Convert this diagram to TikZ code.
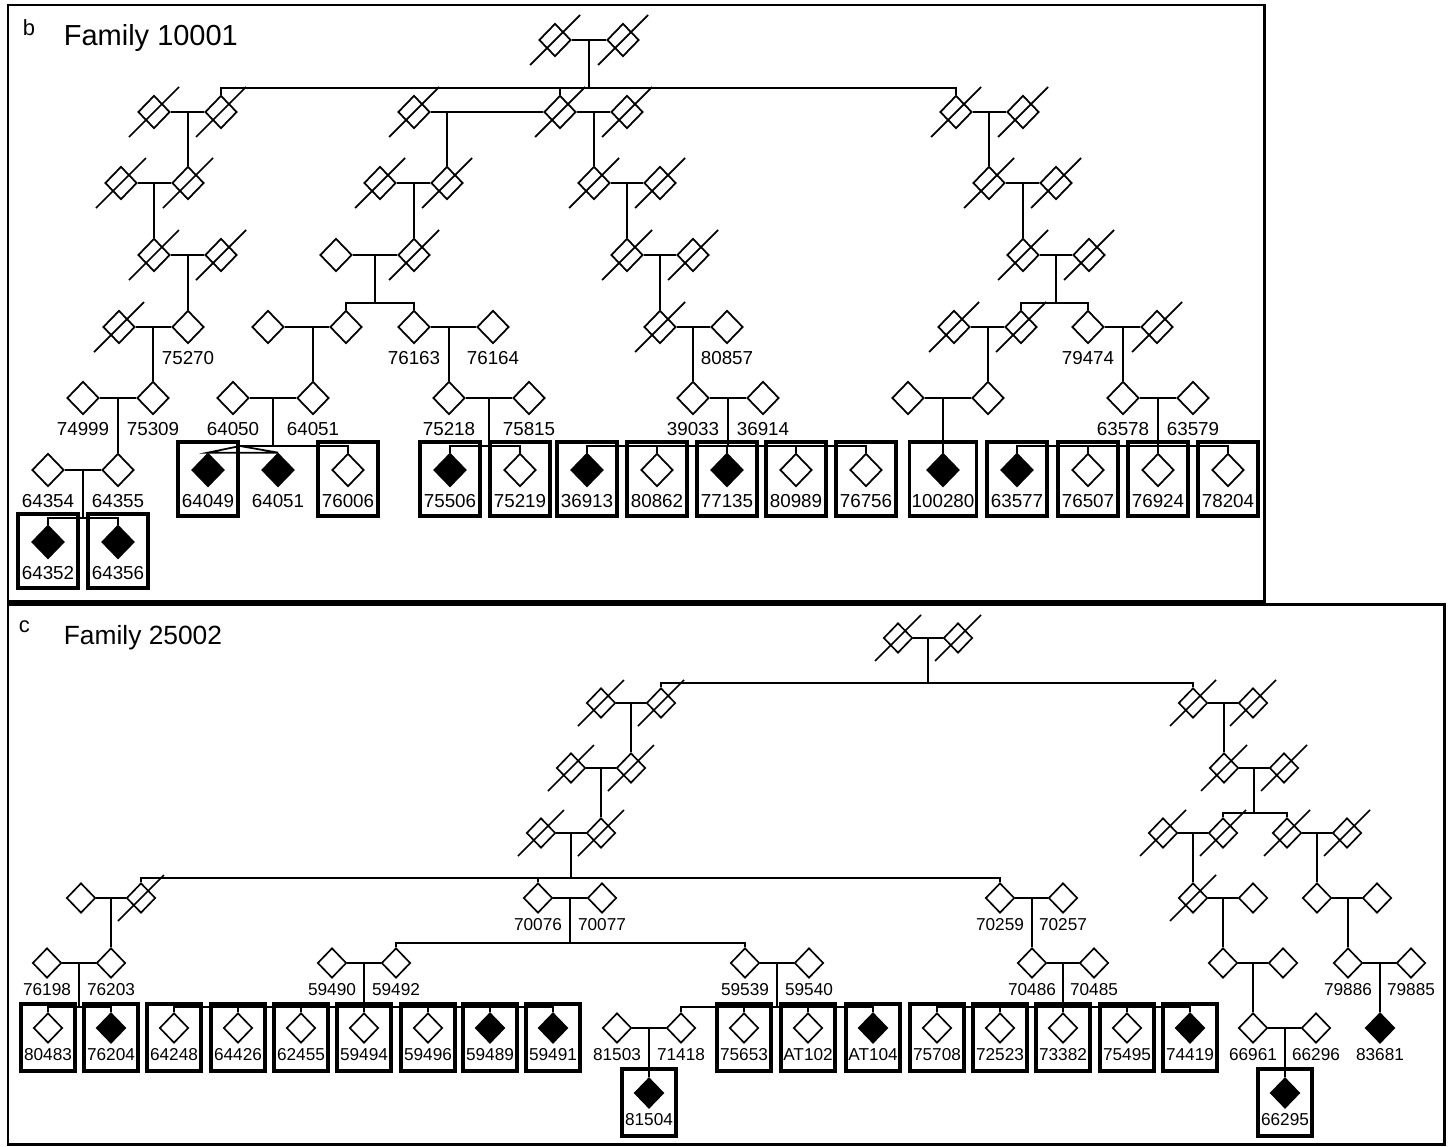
\documentclass[tikz,border=0pt]{standalone}
\usepackage{fontspec}
\setmainfont{Liberation Sans}
\usetikzlibrary{shapes.geometric,positioning}

% sibship: parents #1 and #2, sibship line at height #3, children #4
\newcommand{\sibship}[4]{%
  \path (#1) -- coordinate (mid) (#2);
  \draw (mid) -- (mid |- 0,#3);
  \foreach \kid in {#4} {\draw (\kid.north) -- (\kid.north |- 0,#3) -- (mid |- 0,#3);}
}

\begin{document}
\begin{tikzpicture}[x=0.02cm, y=-0.02cm, line width=1pt,
    ind/.style={diamond, draw, fill=white, inner sep=0pt, minimum width=0.64cm, minimum height=0.66cm},
    aff/.style={ind, fill=black},
    pid/.style={inner sep=0pt, font=\fontsize{10.7}{12}\selectfont},
    panel/.style={line width=1.7pt},
    pbox/.style={line width=1.8pt}]
\useasboundingbox (0,0) rectangle (1452,1146);

%%%%%%%% panel b
\draw[panel] (8,5) rectangle (1264,601);
\node[anchor=base west, inner sep=0pt, font=\fontsize{12.5}{14}\selectfont] (tagb) at (22,35) {b};
\node[anchor=base west, inner sep=0pt, font=\fontsize{16.5}{18}\selectfont] (famb) at (63,45) {Family 10001};

\foreach \n/\x/\y in {b1a/555/40, b1b/623/40,
    b2a/154/112, b2b/221/112, b2c/414/112, b2d/560/112, b2e/627/112, b2f/956/112, b2g/1023/112,
    b3a/121/183, b3b/188/183, b3c/380/183, b3d/447/183, b3e/594/183, b3f/660/183, b3g/989/183, b3h/1056/183,
    b4a/154/255, b4b/221/255, b4c/336/255, b4d/414/255, b4e/627/255, b4f/693/255, b4g/1023/255, b4h/1089/255,
    b5a/119/327, b5c/268/327, b5d/346/327, b5g/660/327, b5i/954/327, b5j/1021/327, b5l/1157/327,
    b6i/908/398, b6j/988/398}
  \node[ind] (\n) at (\x,\y) {};
\foreach \num/\x/\y in {75270/188/327, 76163/414/327, 76164/493/327, 80857/727/327, 79474/1088/327,
    74999/83/398, 75309/153/398, 64050/233/398, 64051/313/398, 75218/449/398, 75815/529/398,
    39033/693/398, 36914/763/398, 63578/1123/398, 63579/1193/398,
    64354/48/470, 64355/118/470, 76006/348/470, 75219/520/470, 80862/657/470, 80989/796/470,
    76756/866/470, 76507/1088/470, 76924/1158/470, 78204/1228/470}
  {\node[ind] (n\num) at (\x,\y) {}; \node[pid, below=0.12cm of n\num] (l\num) {\num};}
\foreach \num/\x/\y in {64049/208/470, 75506/450/470, 36913/587/470, 77135/727/470, 100280/943/470,
    63577/1017/470, 64352/48/542, 64356/118/542}
  {\node[aff] (n\num) at (\x,\y) {}; \node[pid, below=0.12cm of n\num] (l\num) {\num};}
\node[aff] (t64051) at (278,470) {};
\node[pid, below=0.12cm of t64051] (lt64051) {64051};

% couples
\foreach \a/\b in {b1a/b1b, b2a/b2b, b2c/b2d, b2d/b2e, b2f/b2g, b3a/b3b, b3c/b3d, b3e/b3f, b3g/b3h,
    b4a/b4b, b4c/b4d, b4e/b4f, b4g/b4h, b5a/n75270, b5c/b5d, n76163/n76164, b5g/n80857, b5i/b5j,
    n79474/b5l, n74999/n75309, n64050/n64051, n75218/n75815, n39033/n36914, b6i/b6j,
    n63578/n63579, n64354/n64355}
  \draw (\a) -- (\b);
% only children
\foreach \kid/\pa in {b3b/b2a, b3d/b2c, b3e/b2d, b3g/b2f, b4a/b3a, b4d/b3c, b4e/b3e, b4g/b3g,
    n75270/b4a, b5g/b4e, n75309/b5a, n64051/b5c, n75218/n76163, n39033/b5g, b6j/b5i,
    n63578/n79474, n64355/n74999, n100280/b6i}
  \draw (\kid.north) -- (\kid.north |- \pa);
% sibships
\sibship{b1a}{b1b}{88}{b2b,b2d,b2f}
\sibship{b4c}{b4d}{303}{b5d,n76163}
\sibship{b4g}{b4h}{303}{b5j,n79474}
\sibship{n64050}{n64051}{446}{n76006}
\sibship{n75218}{n75815}{446}{n75506,n75219}
\sibship{n39033}{n36914}{446}{n36913,n80862,n77135,n80989,n76756}
\sibship{n63578}{n63579}{446}{n63577,n76507,n76924,n78204}
\sibship{n64354}{n64355}{518}{n64352,n64356}
% twins
\coordinate (tw) at (240,446);
\draw (tw) -- (n76006.north |- tw);
\draw (n64049.north) -- (tw) -- (t64051.north) -- cycle;

\foreach \n in {b1a,b1b,b2a,b2b,b2c,b2d,b2e,b2f,b2g,b3a,b3b,b3c,b3d,b3e,b3f,b3g,b3h,
    b4a,b4b,b4d,b4e,b4f,b4g,b4h,b5a,b5g,b5i,b5j,b5l}
  \draw (\n.center) +(-25,25) -- +(25,-25);
\foreach \n in {n64049,n76006,n75506,n75219,n36913,n80862,n77135,n80989,n76756,
    n63577,n76507,n76924,n78204,n64352,n64356}
  \draw[pbox] (\n.center) ++(-30,-28) rectangle ++(60,74);
\draw[pbox] (n100280.center) ++(-33.5,-28) rectangle ++(67,74);

%%%%%%%% panel c
\draw[panel] (8,604) rectangle (1444,1144.5);
\node[anchor=base west, inner sep=0pt, font=\fontsize{12.5}{14}\selectfont] (tagc) at (18,632) {c};
\node[anchor=base west, inner sep=0pt, font=\fontsize{15}{17}\selectfont] (famc) at (63,644) {Family 25002};

\begin{scope}[line width=0.95pt,
    ind/.style={diamond, draw, fill=white, inner sep=0pt, minimum width=0.58cm, minimum height=0.6cm},
    pid/.style={inner sep=0pt, font=\fontsize{9.8}{11}\selectfont}]
\foreach \n/\x/\y in {c1a/898/638, c1b/958/638,
    c2a/601/703, c2b/661/703, c2c/1193/703, c2d/1253/703,
    c3a/571/768, c3b/631/768, c3c/1224/768, c3d/1284/768,
    c4a/541/833, c4b/601/833, c4c/1163/833, c4d/1223/833, c4e/1287/833, c4f/1347/833,
    c5a/81/898, c5b/141/898, c5g/1193/898, c5h/1253/898, c5i/1317/898, c5j/1377/898,
    c6i/1223/963, c6j/1283/963}
  \node[ind] (\n) at (\x,\y) {};
\foreach \num/\x/\y in {70076/538/898, 70077/602/898, 70259/1000/898, 70257/1063/898,
    76198/47/963, 76203/111/963, 59490/332/963, 59492/396/963, 59539/745/963, 59540/809/963,
    70486/1032/963, 70485/1094/963, 79886/1348/963, 79885/1411/963,
    80483/48/1028, 64248/174/1028, 64426/238/1028, 62455/301/1028, 59494/364/1028, 59496/428/1028,
    81503/617/1028, 71418/681/1028, 75653/744/1028, AT102/808/1028, 75708/937/1028,
    72523/1000/1028, 73382/1063/1028, 75495/1127/1028, 66961/1253/1028, 66296/1316/1028}
  {\node[ind] (n\num) at (\x,\y) {}; \node[pid, below=0.08cm of n\num] (l\num) {\num};}
\foreach \num/\x/\y in {76204/111/1028, 59489/490/1028, 59491/553/1028, AT104/873/1028,
    74419/1190/1028, 83681/1380/1028, 81504/649/1093, 66295/1285/1093}
  {\node[aff] (n\num) at (\x,\y) {}; \node[pid, below=0.08cm of n\num] (l\num) {\num};}

% couples
\foreach \a/\b in {c1a/c1b, c2a/c2b, c2c/c2d, c3a/c3b, c3c/c3d, c4a/c4b, c4c/c4d, c4e/c4f,
    c5a/c5b, n70076/n70077, n70259/n70257, c5g/c5h, c5i/c5j, n76198/n76203, n59490/n59492,
    n59539/n59540, n70486/n70485, c6i/c6j, n79886/n79885, n81503/n71418, n66961/n66296}
  \draw (\a) -- (\b);
% only children
\foreach \kid/\pa in {c3b/c2a, c3c/c2c, c4b/c3a, c5g/c4c, c5i/c4e, n76203/c5a, n70486/n70259,
    c6i/c5g, n79886/c5i, n66961/c6i, n83681/n79886, n81504/n81503, n66295/n66961}
  \draw (\kid.north) -- (\kid.north |- \pa);
% sibships
\sibship{c1a}{c1b}{683}{c2b,c2c}
\sibship{c3c}{c3d}{813}{c4d,c4e}
\sibship{c4a}{c4b}{878}{c5b,n70076,n70259}
\sibship{n70076}{n70077}{943}{n59492,n59539}
\sibship{n76198}{n76203}{1007}{n80483,n76204}
\sibship{n59490}{n59492}{1007}{n64248,n64426,n62455,n59494,n59496,n59489,n59491}
\sibship{n59539}{n59540}{1007}{n71418,n75653,nAT102,nAT104}
\sibship{n70486}{n70485}{1007}{n75708,n72523,n73382,n75495,n74419}

\foreach \n in {c1a,c1b,c2a,c2b,c2c,c2d,c3a,c3b,c3c,c3d,c4a,c4b,c4c,c4d,c4e,c4f,c5b,c5g}
  \draw (\n.center) +(-23,23) -- +(23,-23);
\foreach \n in {n80483,n76204,n64248,n64426,n62455,n59494,n59496,n59489,n59491,
    n75653,nAT102,nAT104,n75708,n72523,n73382,n75495,n74419,n81504,n66295}
  \draw[pbox] (\n.center) ++(-27,-24) rectangle ++(54,67);
\end{scope}

\end{tikzpicture}
\end{document}
